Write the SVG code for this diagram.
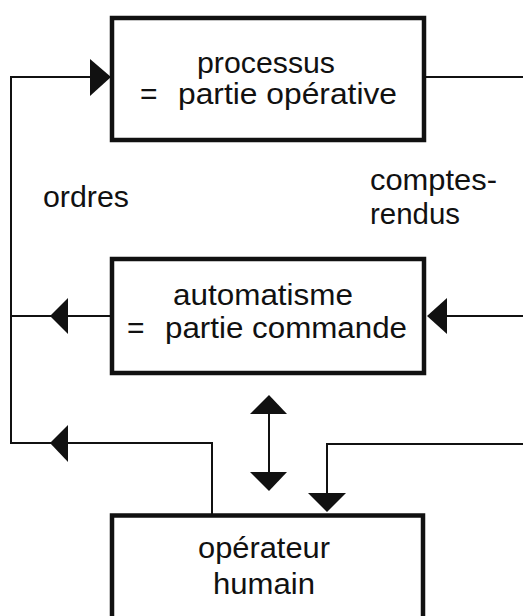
<svg xmlns="http://www.w3.org/2000/svg" width="523" height="616" viewBox="0 0 523 616">
<style>
.box{fill:#fff;stroke:#111;stroke-width:4.5}
.ln{fill:none;stroke:#111;stroke-width:2}
.head{fill:#111;stroke:none}
.t{font-family:"Liberation Sans",Arial,sans-serif;font-size:30px;fill:#111}
</style>
<rect width="523" height="616" fill="#fff"/>
<g id="connectors">
<path class="ln" d="M212,515 V443 H11 V77 H100"/>
<polygon class="head" points="111,77 90,59 90,96"/>
<path class="ln" d="M112,316 H11"/>
<polygon class="head" points="50,316 68,298 68,334"/>
<polygon class="head" points="50,443 68,425 68,462"/>
<path class="ln" d="M424,77 H523"/>
<path class="ln" d="M523,316 H440"/>
<polygon class="head" points="427,316 447,298 447,334"/>
<path class="ln" d="M523,444 H327 V500"/>
<polygon class="head" points="327,512 308,493 346,493"/>
<path class="ln" d="M269,405 V482"/>
<polygon class="head" points="269,395 250,414 287,414"/>
<polygon class="head" points="269,491 250,472 287,472"/>
</g>
<g id="processus">
<rect class="box" x="112" y="18" width="312" height="122"/>
<text class="t" x="197" y="73" textLength="138" lengthAdjust="spacingAndGlyphs">processus</text>
<text class="t" x="140" y="104">=</text>
<text class="t" x="178" y="104" textLength="219" lengthAdjust="spacingAndGlyphs">partie opérative</text>
</g>
<g id="automatisme">
<rect class="box" x="112" y="259" width="312" height="114"/>
<text class="t" x="173" y="305" textLength="180" lengthAdjust="spacingAndGlyphs">automatisme</text>
<text class="t" x="127" y="338">=</text>
<text class="t" x="165" y="338" textLength="242" lengthAdjust="spacingAndGlyphs">partie commande</text>
</g>
<g id="operateur">
<rect class="box" x="112" y="515.5" width="311" height="110"/>
<text class="t" x="198" y="558" textLength="132" lengthAdjust="spacingAndGlyphs">opérateur</text>
<text class="t" x="213" y="594" textLength="102" lengthAdjust="spacingAndGlyphs">humain</text>
</g>
<g id="labels">
<text class="t" x="43" y="207" textLength="86" lengthAdjust="spacingAndGlyphs">ordres</text>
<text class="t" x="370" y="190" textLength="127" lengthAdjust="spacingAndGlyphs">comptes-</text>
<text class="t" x="370" y="224" textLength="90" lengthAdjust="spacingAndGlyphs">rendus</text>
</g>
</svg>
